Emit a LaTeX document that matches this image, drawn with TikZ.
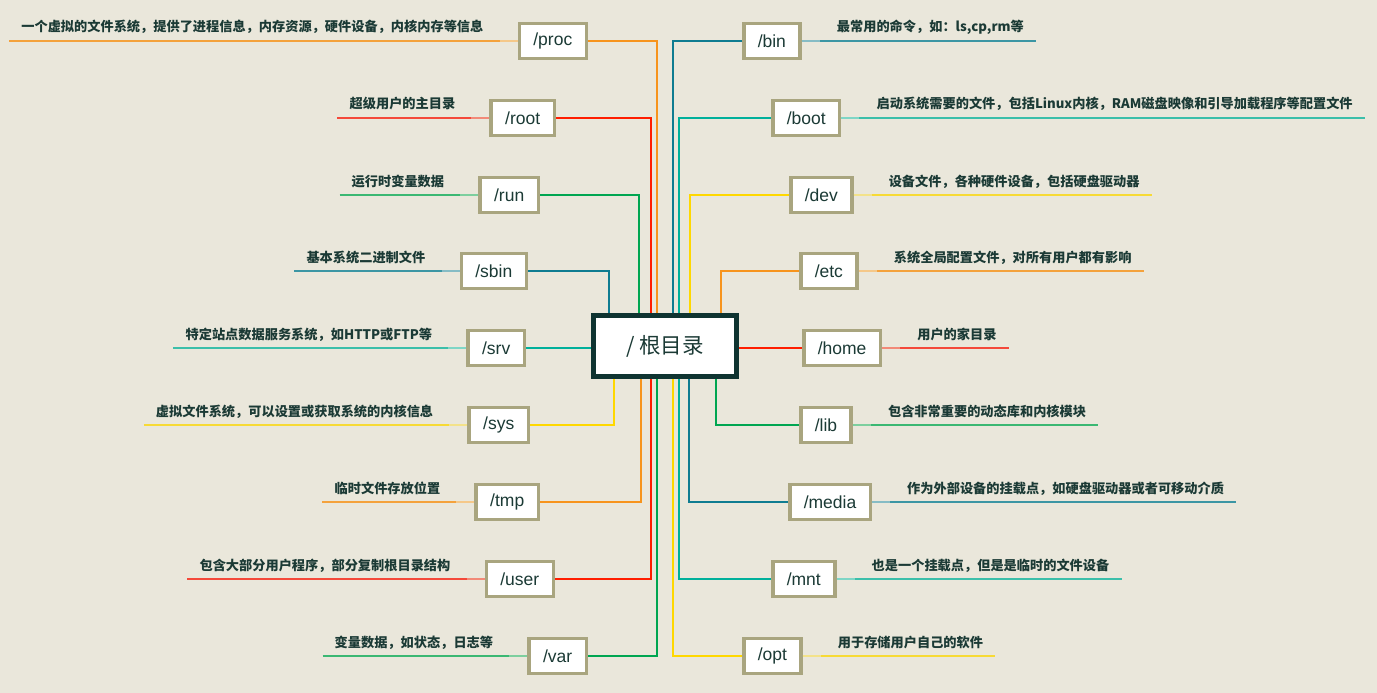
\documentclass[tikz,border=0pt]{standalone}
\usepackage{fontspec}
\setmainfont{Liberation Sans}
\newfontfamily\cjk{Noto Sans CJK SC}

\definecolor{bgpaper}{HTML}{EAE7DB}
\definecolor{inkdark}{HTML}{1B3A35}
\definecolor{hubframe}{HTML}{0F3431}
\definecolor{leafframe}{HTML}{A9A57F}
% c = connector, l = note line, p = pale end at the box
\definecolor{cOrange}{HTML}{F7941D}\definecolor{lOrange}{HTML}{F4A23C}\definecolor{pOrange}{HTML}{F5C889}
\definecolor{cRed}{HTML}{FF1E00}\definecolor{lRed}{HTML}{F4493A}\definecolor{pRed}{HTML}{F28A78}
\definecolor{cGreen}{HTML}{00A651}\definecolor{lGreen}{HTML}{3BB873}\definecolor{pGreen}{HTML}{7DCF9E}
\definecolor{cBlue}{HTML}{0F7C91}\definecolor{lBlue}{HTML}{3C96A4}\definecolor{pBlue}{HTML}{86BCC5}
\definecolor{cTeal}{HTML}{00B09B}\definecolor{lTeal}{HTML}{3CBFAA}\definecolor{pTeal}{HTML}{7FD6C6}
\definecolor{cYellow}{HTML}{FFD800}\definecolor{lYellow}{HTML}{F7DA35}\definecolor{pYellow}{HTML}{F3E28A}

\tikzset{
  leaf/.style={draw=leafframe, line width=3.5pt, fill=white, minimum height=35pt,
    inner xsep=14pt, text=inkdark, font=\fontsize{17.5}{19}\selectfont},
  hub/.style={draw=hubframe, line width=5pt, fill=white, minimum width=143pt,
    minimum height=61pt, text=inkdark, font=\cjk\fontsize{21.5}{24}\selectfont},
  note/.style={inner sep=0pt, text=inkdark, font=\cjk\bfseries\fontsize{13.2}{15}\selectfont},
  branch/.style={line width=2pt},
}

\begin{document}
\begin{tikzpicture}[x=1pt, y=-1pt]
  \fill[bgpaper] (0,0) rectangle (1377,693);
  \useasboundingbox (0,0) rectangle (1377,693);

  % centre
  \node[hub] (hub) at (665,346) {/ 根目录};

  % left side
  \foreach \nm/\yy/\xe/\xv/\cl/\sd/\txt in {
      proc/41/588/657/Orange/north/{一个虚拟的文件系统，提供了进程信息，内存资源，硬件设备，内核内存等信息},
      root/118/556/651/Red/north/{超级用户的主目录},
      run/195/540/639/Green/north/{运行时变量数据},
      sbin/271/528/609/Blue/north/{基本系统二进制文件},
      sys/425/530/614/Yellow/south/{虚拟文件系统，可以设置或获取系统的内核信息},
      tmp/502/540/641/Orange/south/{临时文件存放位置},
      user/579/555/651/Red/south/{包含大部分用户程序，部分复制根目录结构},
      var/656/588/657/Green/south/{变量数据，如状态，日志等}}
  {
    \node[leaf, anchor=east] (\nm) at (\xe,\yy) {/\nm};
    \node[note, anchor=base east] (t\nm) at ([xshift=-34pt, yshift=9pt]\nm.west) {\txt};
    \coordinate (e\nm) at ([xshift=-12pt]t\nm.west |- \nm.west);
    \draw[branch, color=l\cl] (e\nm) -- (\nm.west);
    \draw[branch, color=p\cl] ([xshift=-18pt]\nm.west) -- (\nm.west);
    \draw[branch, color=c\cl] (\nm.east) -| (hub.\sd -| \xv,0);
  }

  % right side
  \foreach \nm/\yy/\xe/\xv/\cl/\sd/\txt in {
      bin/41/742/673/Blue/north/{最常用的命令，如：ls,cp,rm等},
      boot/118/771/679/Teal/north/{启动系统需要的文件，包括Linux内核，RAM磁盘映像和引导加载程序等配置文件},
      dev/195/789/690/Yellow/north/{设备文件，各种硬件设备，包括硬盘驱动器},
      etc/271/799/721/Orange/north/{系统全局配置文件，对所有用户都有影响},
      lib/425/799/716/Green/south/{包含非常重要的动态库和内核模块},
      media/502/788/689/Blue/south/{作为外部设备的挂载点，如硬盘驱动器或者可移动介质},
      mnt/579/771/679/Teal/south/{也是一个挂载点，但是是临时的文件设备},
      opt/656/742/673/Yellow/south/{用于存储用户自己的软件}}
  {
    \node[leaf, anchor=west] (\nm) at (\xe,\yy) {/\nm};
    \node[note, anchor=base west] (t\nm) at ([xshift=35pt, yshift=9pt]\nm.east) {\txt};
    \coordinate (e\nm) at ([xshift=12pt]t\nm.east |- \nm.east);
    \draw[branch, color=l\cl] (\nm.east) -- (e\nm);
    \draw[branch, color=p\cl] (\nm.east) -- ([xshift=18pt]\nm.east);
    \draw[branch, color=c\cl] (\nm.west) -| (hub.\sd -| \xv,0);
  }

  % the two straight ones
  \node[leaf, anchor=east] (srv) at (526,348) {/srv};
  \node[note, anchor=base east] (tsrv) at ([xshift=-34pt, yshift=9pt]srv.west) {特定站点数据服务系统，如HTTP或FTP等};
  \coordinate (esrv) at ([xshift=-12pt]tsrv.west |- srv.west);
  \draw[branch, color=lTeal] (esrv) -- (srv.west);
  \draw[branch, color=pTeal] ([xshift=-18pt]srv.west) -- (srv.west);
  \draw[branch, color=cTeal] (srv.east) -- (srv.east -| hub.west);

  \node[leaf, anchor=west] (home) at (802,348) {/home};
  \node[note, anchor=base west] (thome) at ([xshift=35pt, yshift=9pt]home.east) {用户的家目录};
  \coordinate (ehome) at ([xshift=12pt]thome.east |- home.east);
  \draw[branch, color=lRed] (home.east) -- (ehome);
  \draw[branch, color=pRed] (home.east) -- ([xshift=18pt]home.east);
  \draw[branch, color=cRed] (home.west) -- (home.west -| hub.east);
\end{tikzpicture}
\end{document}
